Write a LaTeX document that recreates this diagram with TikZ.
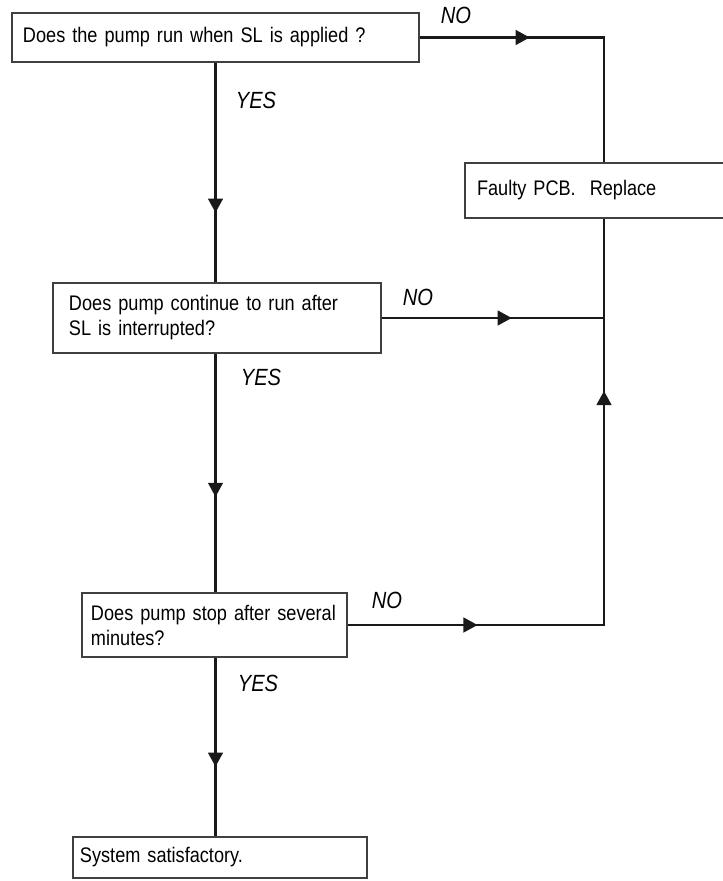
\documentclass[tikz,border=0pt]{standalone}
\usepackage{fontspec}
\setmainfont{Liberation Sans}[FakeStretch=0.86]
\usepackage{tikz}
\usetikzlibrary{arrows.meta,decorations.markings}

\begin{document}
\begin{tikzpicture}[
  x=0.03cm,y=-0.03cm,
  font=\fontsize{18}{21.3}\selectfont,
  box/.style={draw=black!75,line width=1.1pt,fill=white,align=left,inner ysep=0pt},
  lbl/.style={font=\fontsize{20}{22}\selectfont\itshape},
  ln/.style={draw=black!90,line width=2pt},
  arrat/.style={postaction={decorate,decoration={markings,
      mark=at position #1 with {\arrow{Triangle[length=12pt,width=12.5pt]}}}}}
]
\useasboundingbox (0,0) rectangle (722,881);

\node[box,text width=11.55cm,inner xsep=0.33cm,minimum height=1.47cm] (b1) at (215.5,37.5)
  {Does the pump run when SL is applied ?};
\node[box,text width=8.88cm,inner xsep=0.48cm,minimum height=2.1cm] (b2) at (217,318)
  {Does pump continue to run after\\ SL is interrupted?};
\node[box,text width=7.41cm,inner xsep=0.27cm,minimum height=1.92cm] (b3) at (214.5,625)
  {Does pump stop after several\\ minutes?};
\node[box,text width=8.4cm,inner xsep=0.21cm,minimum height=1.23cm] (b4) at (220,857.5)
  {System satisfactory.};
\node[box,text width=7.05cm,inner xsep=0.36cm,minimum height=1.65cm] (fault) at (594.5,190.5)
  {Faulty PCB.\ \ Replace};

\coordinate (c1) at (604,37.5);
\coordinate (c3) at (604,625);

% yes branch
\draw[ln,arrat=0.683] (b1.south) -- (b1.south |- b2.north);
\draw[ln,arrat=0.6] (b1.south |- b2.south) -- (b1.south |- b3.north);
\draw[ln,arrat=0.61] (b1.south |- b3.south) -- (b1.south |- b4.north);

% no branch
\draw[ln,arrat=0.356] (b1.east) -- (c1) -- (c1 |- fault.north);
\draw[ln,arrat=0.585] (b2.east) -- (b2.east -| c1);
\draw[ln,arrat=0.196,arrat=0.74] (b3.east) -- (c3) -- (c3 |- fault.south);

\node[lbl] (no1) at (456,15) {NO};
\node[lbl] (yes1) at (256,100) {YES};
\node[lbl] (no2) at (418,297) {NO};
\node[lbl] (yes2) at (261,377) {YES};
\node[lbl] (no3) at (387,600) {NO};
\node[lbl] (yes3) at (258,683) {YES};
\end{tikzpicture}
\end{document}
